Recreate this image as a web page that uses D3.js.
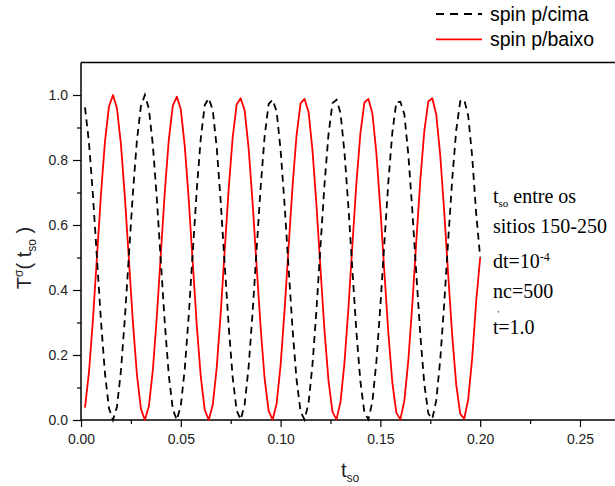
<!DOCTYPE html>
<html><head><meta charset="utf-8">
<script src="https://cdn.jsdelivr.net/npm/d3@7"></script>
<style>body{margin:0;background:#fff}svg{display:block}</style>
</head><body>
<svg id="chart" width="615" height="486"></svg>
<script>
// ---- data ----
const tSo = [0.002,0.004,0.006,0.008,0.010,0.012,0.014,0.016,0.018,0.020,
 0.022,0.024,0.026,0.028,0.030,0.032,0.034,0.036,0.038,0.040,
 0.042,0.044,0.046,0.048,0.050,0.052,0.054,0.056,0.058,0.060,
 0.062,0.064,0.066,0.068,0.070,0.072,0.074,0.076,0.078,0.080,
 0.082,0.084,0.086,0.088,0.090,0.092,0.094,0.096,0.098,0.100,
 0.102,0.104,0.106,0.108,0.110,0.112,0.114,0.116,0.118,0.120,
 0.122,0.124,0.126,0.128,0.130,0.132,0.134,0.136,0.138,0.140,
 0.142,0.144,0.146,0.148,0.150,0.152,0.154,0.156,0.158,0.160,
 0.162,0.164,0.166,0.168,0.170,0.172,0.174,0.176,0.178,0.180,
 0.182,0.184,0.186,0.188,0.190,0.192,0.194,0.196,0.198,0.200];
const spinUp = [0.962,0.853,0.690,0.498,0.306,0.144,0.036,0.000,0.040,0.151,
 0.315,0.507,0.699,0.859,0.965,1.000,0.958,0.846,0.681,0.488,
 0.297,0.137,0.033,0.000,0.044,0.158,0.324,0.517,0.708,0.866,
 0.969,0.990,0.954,0.839,0.671,0.478,0.288,0.130,0.029,0.001,
 0.048,0.165,0.333,0.527,0.716,0.873,0.972,0.985,0.950,0.831,
 0.662,0.468,0.279,0.124,0.026,0.001,0.052,0.172,0.342,0.537,
 0.725,0.879,0.975,0.985,0.945,0.824,0.653,0.458,0.270,0.117,
 0.023,0.002,0.057,0.180,0.352,0.546,0.734,0.886,0.978,0.979,
 0.941,0.816,0.644,0.449,0.262,0.111,0.020,0.003,0.061,0.187,
 0.361,0.556,0.742,0.892,0.981,0.985,0.936,0.809,0.634,0.500];
const spinDown = [0.038,0.147,0.310,0.502,0.694,0.856,0.964,1.000,0.960,0.849,
 0.685,0.493,0.301,0.141,0.035,0.000,0.042,0.154,0.319,0.512,
 0.703,0.863,0.967,0.995,0.956,0.842,0.676,0.483,0.292,0.134,
 0.031,0.000,0.046,0.161,0.329,0.522,0.712,0.870,0.971,0.990,
 0.952,0.835,0.667,0.473,0.284,0.127,0.028,0.001,0.050,0.169,
 0.338,0.532,0.721,0.876,0.974,0.988,0.948,0.828,0.658,0.463,
 0.275,0.121,0.025,0.002,0.055,0.176,0.347,0.542,0.730,0.883,
 0.977,0.988,0.943,0.820,0.648,0.454,0.266,0.114,0.022,0.002,
 0.059,0.184,0.356,0.551,0.738,0.889,0.980,0.990,0.939,0.813,
 0.639,0.444,0.258,0.108,0.019,0.004,0.064,0.191,0.366,0.500];
const seriesNames = ["spin p/cima", "spin p/baixo"];
const xTicks = [0, 0.05, 0.10, 0.15, 0.20, 0.25];
const xMinorTicks = [0.025, 0.075, 0.125, 0.175, 0.225];
const yTicks = [0, 0.2, 0.4, 0.6, 0.8, 1.0];
const yMinorTicks = [0.1, 0.3, 0.5, 0.7, 0.9];

// ---- drawing ----
const svg = d3.select("#chart");
svg.append("rect").attr("width",615).attr("height",486).attr("fill","#fff");
const sans = "'Liberation Sans', Arial, Helvetica, sans-serif";
const serif = "'Liberation Serif', 'Times New Roman', serif";

const x = d3.scaleLinear().domain([0, 0.27]).range([81, 81 + 0.27*1996]);
const y = d3.scaleLinear().domain([0, 1.1]).range([420, 62.5]);

// frame (top border)
svg.append("line").attr("x1",81).attr("x2",x(0.27)).attr("y1",y(1.1)).attr("y2",y(1.1))
  .attr("stroke","#000").attr("stroke-width",1.5);

// minor ticks
svg.append("g").attr("transform","translate(0,420)")
  .call(d3.axisBottom(x).tickValues(xMinorTicks).tickFormat("").tickSize(4).tickSizeOuter(0))
  .call(g=>g.select(".domain").remove())
  .call(g=>g.selectAll("line").attr("stroke-width",1.2));
svg.append("g").attr("transform","translate(81,0)")
  .call(d3.axisLeft(y).tickValues(yMinorTicks).tickFormat("").tickSize(4).tickSizeOuter(0))
  .call(g=>g.select(".domain").remove())
  .call(g=>g.selectAll("line").attr("stroke-width",1.2));

// major axes
const gx = svg.append("g").attr("transform","translate(0,420)")
  .call(d3.axisBottom(x).tickValues(xTicks).tickFormat(d3.format(".2f")).tickSize(7).tickPadding(7).tickSizeOuter(0));
gx.select(".domain").attr("d", `M81,0H${x(0.27)}`).attr("stroke-width",1.5);
const gy = svg.append("g").attr("transform","translate(81,0)")
  .call(d3.axisLeft(y).tickValues(yTicks).tickFormat(d3.format(".1f")).tickSize(8).tickPadding(5).tickSizeOuter(0));
gy.select(".domain").attr("d", `M0,420V${y(1.1)}`).attr("stroke-width",1.5);
[gx, gy].forEach(g => {
  g.selectAll(".tick line").attr("stroke-width",1.2);
  g.selectAll("text").attr("font-family",sans).attr("font-size",14).attr("fill","#222");
});

// lines
const line = d3.line().x((d,i)=>x(tSo[i])).y(d=>y(d));
svg.append("path").datum(spinDown).attr("d",line).attr("fill","none")
  .attr("stroke","#ff0000").attr("stroke-width",1.8).attr("stroke-linejoin","round");
svg.append("path").datum(spinUp).attr("d",line).attr("fill","none")
  .attr("stroke","#000").attr("stroke-width",1.8).attr("stroke-dasharray","7,5");

// legend
const legStyles = [{stroke:"#000", dash:"8,6"}, {stroke:"#ff0000", dash:null}];
seriesNames.forEach((name,i)=>{
  const yy = 14 + i*25.3;
  svg.append("line").attr("x1",436).attr("x2",482).attr("y1",yy).attr("y2",yy)
    .attr("stroke",legStyles[i].stroke).attr("stroke-width",1.8)
    .attr("stroke-dasharray",legStyles[i].dash);
  svg.append("text").attr("x",490).attr("y",yy+7).attr("font-family",sans)
    .attr("font-size",19.5).attr("fill","#000").text(name);
});

// axis titles
const xl = svg.append("text").attr("x",350).attr("y",477).attr("text-anchor","middle")
  .attr("font-family",sans).attr("font-size",20).attr("fill","#222");
xl.append("tspan").text("t");
xl.append("tspan").attr("font-size",12).attr("dy",5).text("so");

const yl = svg.append("text").attr("transform","translate(31,258) rotate(-90)")
  .attr("text-anchor","middle").attr("font-family",sans).attr("font-size",20).attr("fill","#222");
yl.append("tspan").text("T");
yl.append("tspan").attr("font-size",12).attr("dy",-8).text("σ");
yl.append("tspan").attr("dy",8).text("( t");
yl.append("tspan").attr("font-size",12).attr("dy",5).text("so");
yl.append("tspan").attr("dy",-5).text(" )");

// annotations
const ann = svg.append("g").attr("font-family",serif).attr("font-size",20).attr("fill","#000");
const a1 = ann.append("text").attr("x",493).attr("y",203);
a1.append("tspan").text("t");
a1.append("tspan").attr("font-size",11).attr("dy",4).text("so");
a1.append("tspan").attr("dy",-4).text(" entre os");
ann.append("text").attr("x",493).attr("y",233).text("sitios 150-250");
const a3 = ann.append("text").attr("x",493).attr("y",268);
a3.append("tspan").text("dt=10");
a3.append("tspan").attr("font-size",12).attr("dy",-7).text("-4");
ann.append("text").attr("x",493).attr("y",298).text("nc=500");
const a5 = ann.append("text").attr("x",493).attr("y",334);
a5.append("tspan").text("t");
a5.append("tspan").attr("font-size",9).attr("dy",-17).attr("dx",-1).text("'");
a5.append("tspan").attr("dy",17).attr("dx",-1).text("=1.0");
</script>
</body></html>
